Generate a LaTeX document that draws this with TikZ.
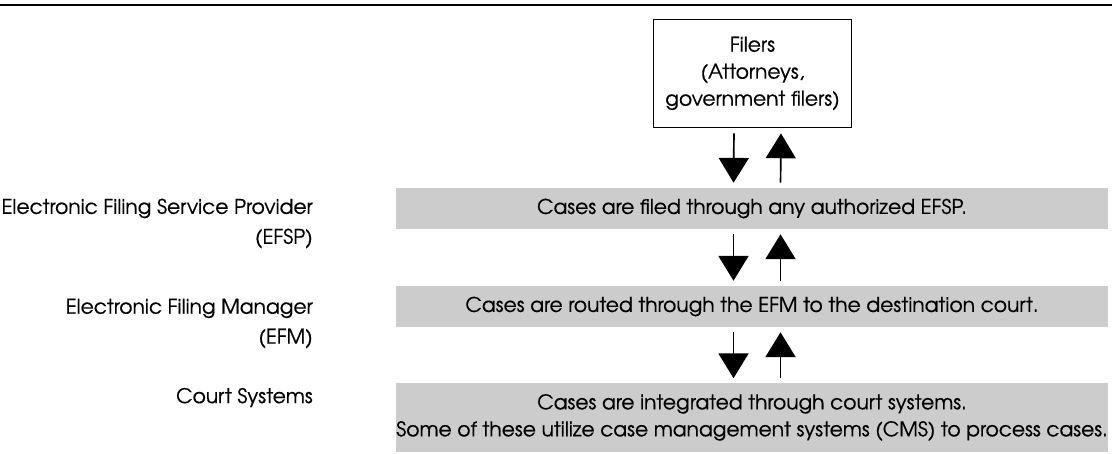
\documentclass[tikz,border=0pt]{standalone}
\usepackage{fontspec}
\setmainfont{TeX Gyre Adventor}[FakeBold=0.5]
\usetikzlibrary{arrows.meta}
\definecolor{barGray}{RGB}{204,204,204}

\begin{document}
\begin{tikzpicture}
	[x=0.025cm,y=-0.025cm,
	every node/.style={inner sep=0pt,font=\fontsize{14.4}{19.2}\selectfont},
	layer/.style={fill=barGray,minimum width=17.8cm,minimum height=1.025cm,align=center},
	filerbox/.style={draw,line width=1.3pt,minimum width=4.95cm,minimum height=2.7cm,align=center},
	tag/.style={anchor=east,align=right,font=\fontsize{14.4}{21.3}\selectfont},
	flow/.style={line width=1.2pt,shorten <=0.125cm,shorten >=0.125cm,
		-{Triangle[width=0.75cm,length=0.62cm]}}]
		\useasboundingbox (0,0) rectangle (1112,454);
		\draw[line width=2pt] (0,5) -- (1112,5);

		\node[filerbox] (filers) at (752.5,73.5) {Filers\\(Attorneys,\\government filers)};

		\node[layer] (efsp) at (752,208.5) {Cases are filed through any authorized EFSP.};
		\node[layer] (efm) at (752,306.5) {Cases are routed through the EFM to the destination court.};
		\node[layer,minimum height=1.7cm] (court) at (752,417.5)
			{Cases are integrated through court systems.\\
			Some of these utilize case management systems (CMS) to process cases.};

		\node[tag] (efspTag) at (313,223.5) {Electronic Filing Service Provider\\(EFSP)};
		\node[tag] (efmTag) at (313,323.5) {Electronic Filing Manager\\(EFM)};
		\node[tag] (courtTag) at (313,397.5) {Court Systems};

		\path
		\foreach \src/\dst in {filers/efsp, efsp/efm, efm/court}
		{
			([xshift=-0.4625cm]\src.south) edge[flow] ([xshift=-0.4625cm]\dst.north)
			([xshift=0.7125cm]\dst.north) edge[flow] ([xshift=0.7125cm]\src.south)
		};
	\end{tikzpicture}
\end{document}
